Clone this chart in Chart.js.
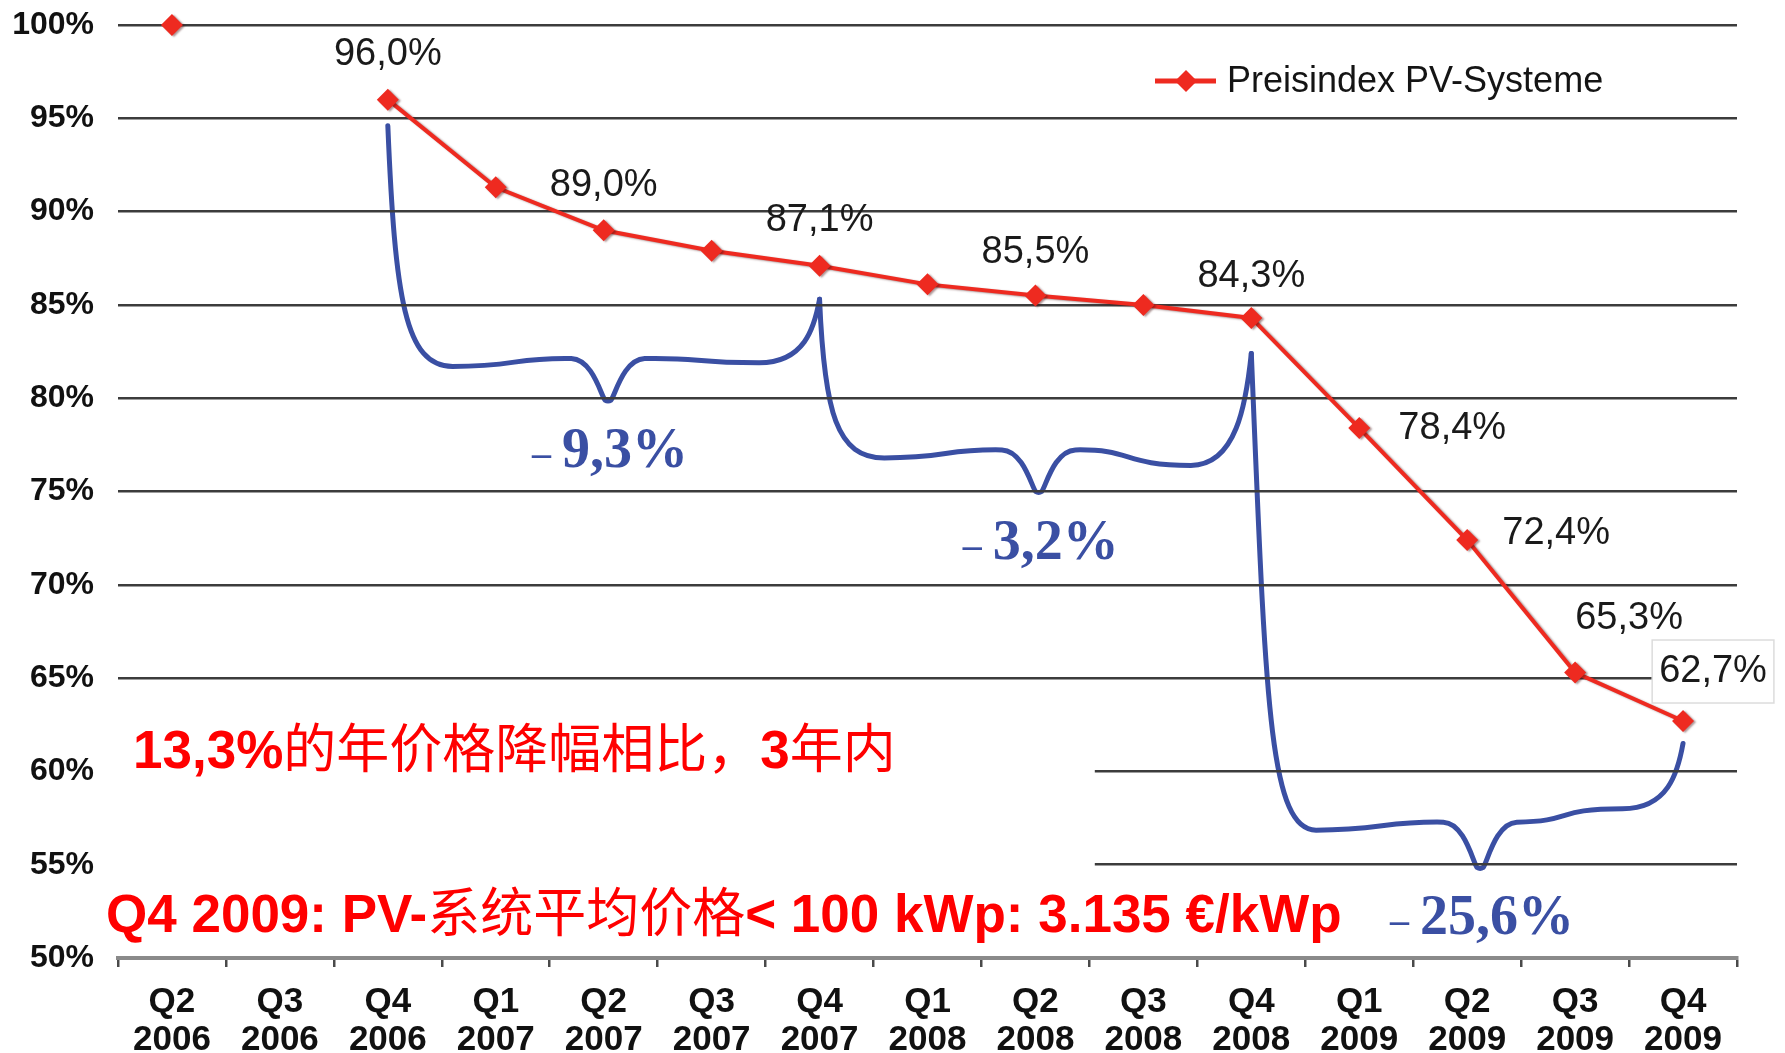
<!DOCTYPE html>
<html>
<head>
<meta charset="utf-8">
<script src="https://cdn.jsdelivr.net/npm/chart.js@4/dist/chart.umd.min.js"></script>
<style>
  html, body { margin: 0; padding: 0; background: #ffffff; }
  #wrap { width: 1785px; height: 1053px; }
</style>
</head>
<body>
<div id="wrap"><canvas id="c" width="1785" height="1053"></canvas></div>
<script>
// ---- data -------------------------------------------------------------
const quarters = [
  ['Q2', '2006'], ['Q3', '2006'], ['Q4', '2006'],
  ['Q1', '2007'], ['Q2', '2007'], ['Q3', '2007'], ['Q4', '2007'],
  ['Q1', '2008'], ['Q2', '2008'], ['Q3', '2008'], ['Q4', '2008'],
  ['Q1', '2009'], ['Q2', '2009'], ['Q3', '2009'], ['Q4', '2009']
];
const priceIndex = [100, null, 96.0, 91.3, 89.0, 87.9, 87.1, 86.1, 85.5, 85.0, 84.3, 78.4, 72.4, 65.3, 62.7];
const seriesName = 'Preisindex PV-Systeme';
const yTickValues = [50, 55, 60, 65, 70, 75, 80, 85, 90, 95, 100];
// quarters whose value is written next to the marker
const labelledPoints = [2, 4, 6, 8, 10, 11, 12, 13, 14];
// periods summarised by a curly brace and their price change
const periods = [[2, 6], [6, 10], [10, 14]];
const noteTop = [['13,3%', 'latin'], ['的年价格降幅相比，', 'cjk'], ['3', 'latin'], ['年内', 'cjk']];
const noteBottom = [['Q4 2009: PV-', 'latin'], ['系统平均价格', 'cjk'], ['< 100 kWp: 3.135 €/kWp', 'latin']];

// ---- styling ----------------------------------------------------------
const RED = '#ee2a20';
const BLUE = '#3a4fa3';
const LATIN_FAMILY = '"Liberation Sans", Arial, Helvetica, sans-serif';
const CJK_FAMILY = '"Noto Sans CJK SC", "Noto Sans CJK TC", sans-serif';
const SERIF_FAMILY = '"Liberation Serif", "Times New Roman", serif';

// where each value label sits relative to its marker (px)
const labelOffset = {
  2: [0, -45], 4: [0, -45], 6: [0, -45], 8: [0, -43], 10: [0, -41],
  11: [93, 0], 12: [89, -7], 13: [54, -54], 14: [30, -50]
};
const boxedLabel = 14;

// brace outlines in axis units (x = category index, y = percent)
const braceShapes = [
  { tipAt: 4.04,  topL: 94.6, topR: 85.3, baseL: 81.7,  baseR: 81.9, tip: 79.9 },
  { tipAt: 8.03,  topL: 85.3, topR: 82.4, baseL: 76.8,  baseR: 76.4, tip: 75.0 },
  { tipAt: 12.12, topL: 82.4, topR: 61.5, baseL: 56.85, baseR: 58.0, tip: 54.85 }
];

const fmtPct = v => v.toFixed(1).replace('.', ',') + '%';

function drawRuns(ctx, runs, x, y, size) {
  for (const [text, kind] of runs) {
    ctx.font = kind === 'cjk' ? `400 ${size}px ${CJK_FAMILY}` : `bold ${size}px ${LATIN_FAMILY}`;
    ctx.fillText(text, x, y);
    x += ctx.measureText(text).width;
  }
}

function drawBrace(ctx, xs, ys, span, s) {
  const xL = xs.getPixelForValue(span[0]);
  const xR = xs.getPixelForValue(span[1]);
  const xM = xs.getPixelForValue(s.tipAt);
  const yTL = ys.getPixelForValue(s.topL);
  const yTR = ys.getPixelForValue(s.topR);
  const yBL = ys.getPixelForValue(s.baseL);
  const yBR = ys.getPixelForValue(s.baseR);
  const yTip = ys.getPixelForValue(s.tip);
  const w = xR - xL;
  const hL = yBL - yTL;
  const hR = yBR - yTR;
  const yS = yBL - 6;
  ctx.beginPath();
  ctx.moveTo(xL, yTL);
  // left arm bending into the base
  ctx.bezierCurveTo(xL + 0.03 * hL, yTL + 0.72 * hL, xL + 0.04 * w, yBL, xL + 0.15 * w, yBL);
  // base rising to a shoulder before the tip
  ctx.bezierCurveTo(xL + 0.3 * w, yBL, xM - 0.22 * w, yS - 3, xM - 0.085 * w, yS - 2);
  // rounded dip
  ctx.bezierCurveTo(xM - 0.035 * w, yS - 1, xM - 0.016 * w, yTip - 4, xM - 3, yTip);
  ctx.quadraticCurveTo(xM, yTip + 2, xM + 3, yTip);
  ctx.bezierCurveTo(xM + 0.016 * w, yTip - 4, xM + 0.035 * w, yS - 1, xM + 0.085 * w, yS - 2);
  // base on the right, then the right arm
  ctx.bezierCurveTo(xM + 0.22 * w, yS - 3, xR - 0.3 * w, yBR, xR - 0.14 * w, yBR);
  ctx.bezierCurveTo(xR - 0.035 * w, yBR, xR - 0.012 * w, yBR - 0.55 * hR, xR, yTR);
  ctx.stroke();

  // percentage change over the period
  const change = (priceIndex[span[1]] / priceIndex[span[0]] - 1) * 100;
  const text = Math.abs(change).toFixed(1).replace('.', ',') + '%';
  const cx = xM + 17;
  const base = yTip + 67;
  ctx.fillStyle = BLUE;
  ctx.textBaseline = 'alphabetic';
  ctx.textAlign = 'center';
  ctx.font = `bold 56px ${SERIF_FAMILY}`;
  const tw = ctx.measureText(text).width;
  ctx.fillText(text, cx, base);
  ctx.textAlign = 'right';
  ctx.font = `bold 38px ${SERIF_FAMILY}`;
  ctx.fillText('–', cx - tw / 2 - 11, base - 1);
}

const decorations = {
  id: 'decorations',
  beforeDraw(chart) {
    const { ctx, scales: { x, y } } = chart;
    ctx.save();
    ctx.strokeStyle = BLUE;
    ctx.lineWidth = 5;
    ctx.lineCap = 'round';
    ctx.lineJoin = 'round';
    periods.forEach((p, i) => drawBrace(ctx, x, y, p, braceShapes[i]));
    ctx.restore();
  },
  beforeDatasetsDraw(chart) {
    // white note panel hiding the lower grid lines on the left
    const { ctx, chartArea, scales: { x, y } } = chart;
    ctx.save();
    ctx.fillStyle = '#ffffff';
    const x1 = x.getPixelForValue(8.55);
    const yTop = y.getPixelForValue(63.6);
    const yBot = y.getPixelForValue(51.2);
    ctx.fillRect(chartArea.left - 2, yTop, x1 - chartArea.left + 2, yBot - yTop);
    ctx.restore();
  },
  beforeDatasetDraw(chart) {
    const ctx = chart.ctx;
    ctx.save();
    ctx.shadowColor = 'rgba(70, 20, 20, 0.45)';
    ctx.shadowOffsetX = 2;
    ctx.shadowOffsetY = 1;
    ctx.shadowBlur = 2;
  },
  afterDatasetDraw(chart) {
    chart.ctx.restore();
  },
  afterDatasetsDraw(chart) {
    const { ctx } = chart;
    const meta = chart.getDatasetMeta(0);
    ctx.save();
    ctx.font = `38px ${LATIN_FAMILY}`;
    ctx.textAlign = 'center';
    ctx.textBaseline = 'middle';
    for (const i of labelledPoints) {
      const pt = meta.data[i];
      const [dx, dy] = labelOffset[i];
      const cx = pt.x + dx, cy = pt.y + dy;
      const text = fmtPct(priceIndex[i]);
      if (i === boxedLabel) {
        const w = ctx.measureText(text).width + 14;
        ctx.fillStyle = '#ffffff';
        ctx.fillRect(cx - w / 2, cy - 31, w, 63);
        ctx.strokeStyle = '#dcdcdc';
        ctx.lineWidth = 1.5;
        ctx.strokeRect(cx - w / 2, cy - 31, w, 63);
      }
      ctx.fillStyle = '#1a1a1a';
      ctx.fillText(text, cx, cy);
    }
    ctx.restore();
  },
  afterDraw(chart) {
    const { ctx } = chart;
    ctx.save();
    // legend
    ctx.strokeStyle = RED;
    ctx.lineWidth = 5;
    ctx.beginPath();
    ctx.moveTo(1155, 81);
    ctx.lineTo(1216, 81);
    ctx.stroke();
    ctx.fillStyle = RED;
    ctx.beginPath();
    ctx.moveTo(1186, 70); ctx.lineTo(1197, 81); ctx.lineTo(1186, 92); ctx.lineTo(1175, 81);
    ctx.closePath();
    ctx.fill();
    ctx.fillStyle = '#141414';
    ctx.font = `36px ${LATIN_FAMILY}`;
    ctx.textBaseline = 'middle';
    ctx.textAlign = 'left';
    ctx.fillText(seriesName, 1227, 82);

    // red notes
    ctx.fillStyle = '#ff0000';
    ctx.textBaseline = 'alphabetic';
    drawRuns(ctx, noteTop, 133, 768, 53);
    drawRuns(ctx, noteBottom, 106, 932, 53);
    ctx.restore();
  }
};

Chart.defaults.font.family = LATIN_FAMILY;
Chart.defaults.color = '#111111';

new Chart(document.getElementById('c'), {
  type: 'line',
  data: {
    labels: quarters,
    datasets: [{
      label: seriesName,
      data: priceIndex,
      borderColor: RED,
      backgroundColor: RED,
      borderWidth: 4,
      pointStyle: 'rectRot',
      pointRadius: 11,
      pointBorderWidth: 0,
      pointBackgroundColor: RED,
      spanGaps: false,
      tension: 0,
      clip: false
    }]
  },
  options: {
    responsive: false,
    animation: false,
    layout: { padding: { left: 0, right: 48, top: 25, bottom: 0 } },
    plugins: {
      legend: { display: false },
      tooltip: { enabled: false }
    },
    scales: {
      x: {
        type: 'category',
        offset: true,
        afterFit(scale) { scale.height = 95; },
        border: { display: true, color: '#8a8a8a', width: 4 },
        grid: {
          display: true, offset: true, drawOnChartArea: false, drawTicks: true,
          tickLength: 9, color: '#4a4a4a', lineWidth: 2.5
        },
        ticks: {
          autoSkip: false, maxRotation: 0, padding: 16, color: '#111111',
          font: { size: 35, weight: 'bold', lineHeight: 1.1 }
        }
      },
      y: {
        min: 50, max: 100,
        afterFit(scale) { scale.width = 118; },
        afterBuildTicks(scale) { scale.ticks = yTickValues.map(v => ({ value: v })); },
        border: { display: false },
        grid: {
          drawTicks: true,
          tickLength: 24,
          tickColor: 'rgba(0,0,0,0)',
          lineWidth: 2.5,
          color: ctx => (ctx.tick && ctx.tick.value === 50) ? 'rgba(0,0,0,0)' : '#3c3c3c'
        },
        ticks: {
          padding: 0, color: '#111111',
          font: { size: 32, weight: 'bold', lineHeight: 1 },
          callback: v => v + '%'
        }
      }
    }
  },
  plugins: [decorations]
});
</script>
</body>
</html>
